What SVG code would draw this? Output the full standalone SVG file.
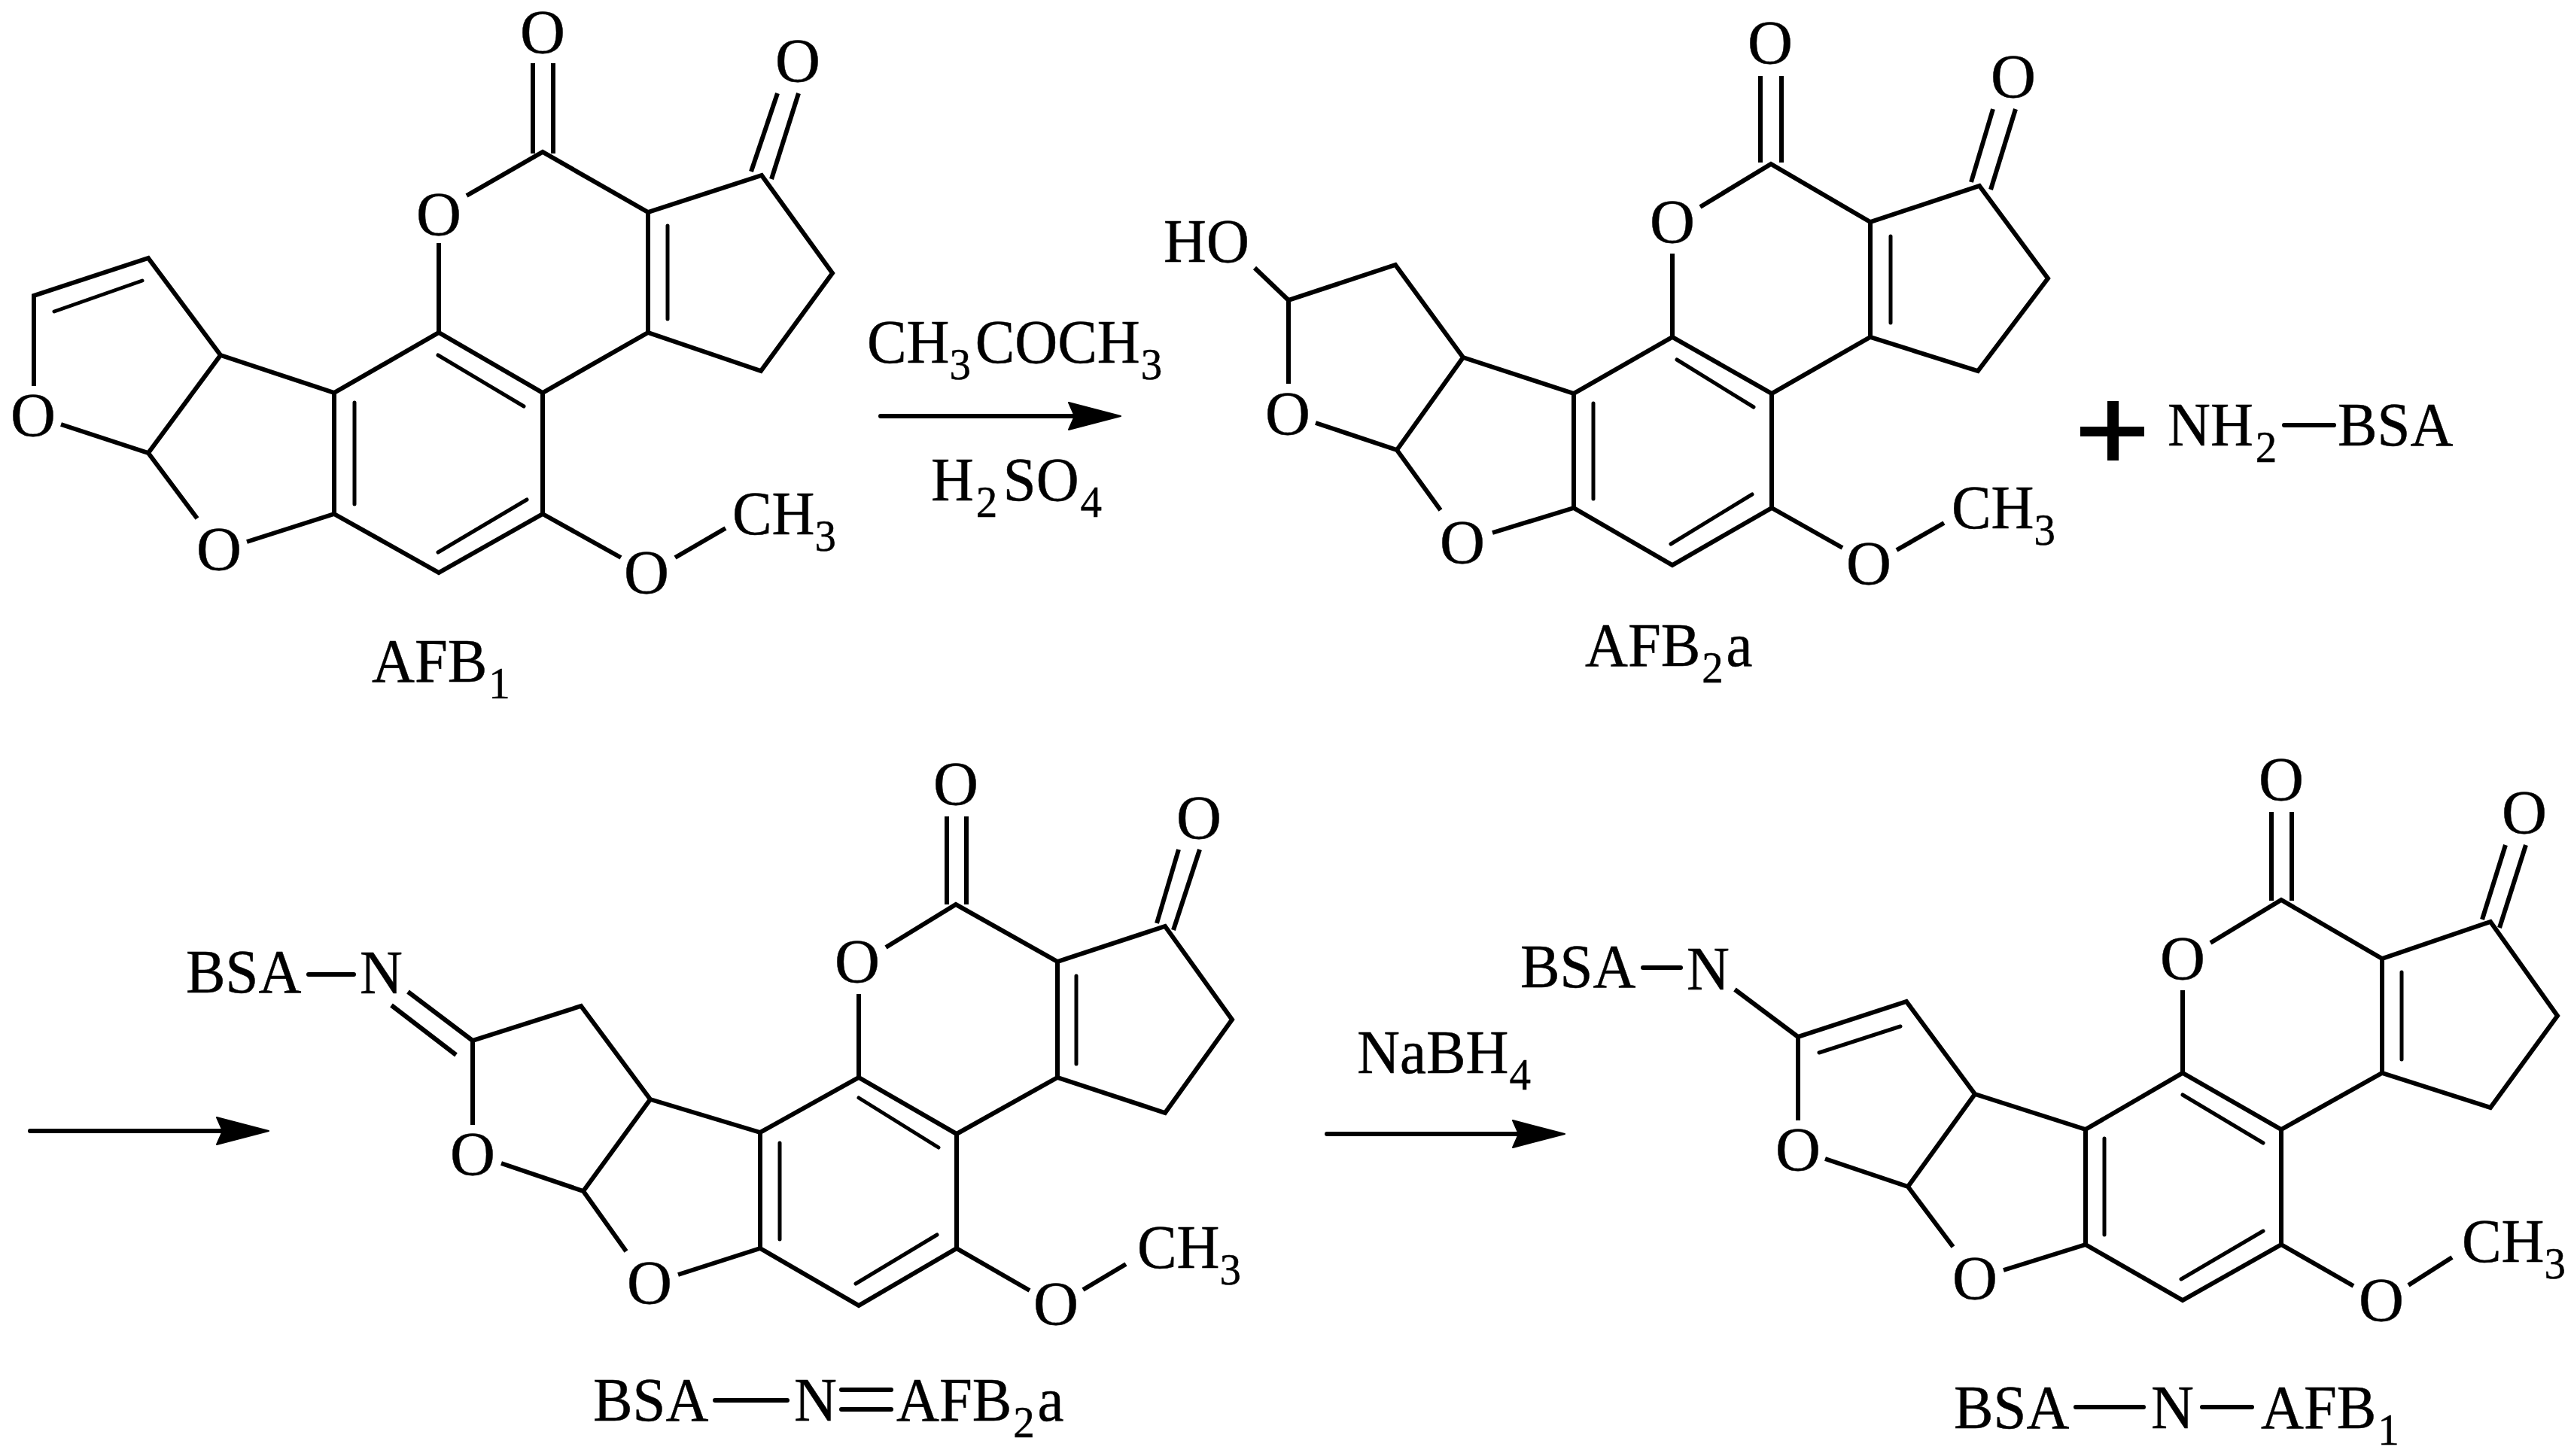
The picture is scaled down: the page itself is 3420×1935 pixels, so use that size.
<svg xmlns="http://www.w3.org/2000/svg" width="3420" height="1935" viewBox="0 0 3420 1935">
<style>
text{font-family:"Liberation Serif","Times New Roman",serif;font-size:83px;fill:#000;stroke:#000;stroke-width:.5}
.m{text-anchor:middle}
.s{font-size:60px}
.b{fill:none;stroke:#000;stroke-width:6;stroke-linecap:butt;stroke-linejoin:miter}
.i{fill:none;stroke:#000;stroke-width:5;stroke-linecap:round}
.a{fill:none;stroke:#000;stroke-width:6;stroke-linecap:round}
.d{fill:none;stroke:#000;stroke-width:6;stroke-linecap:round}
</style>
<defs>
<marker id="head" markerUnits="userSpaceOnUse" markerWidth="90" markerHeight="50" refX="50" refY="25" orient="auto" overflow="visible">
<path d="M0,7L69,25L0,43L8,25Z" fill="#000" stroke="#000" stroke-width="2" stroke-linejoin="round"/>
</marker>
</defs>
<rect width="3420" height="1935" fill="#fff"/>

<g id="AFB1">
<path class="b" d="M708,84V204M735,84V204M998,228L1033,124M1025,238L1061,124M620,260L721,202L861,282L1012,233L1106,363L1011,493L861,442L721,522L583,442L444,522V683L583,761L721,683V522M861,282V442M583,323V442M293,472L444,522M81,564L197,602L293,472L197,343L45,393V513M197,602L262,689M328,720L444,683M721,683L825,741M897,741L964,702"/>
<path class="i" d="M471,535V670M582,472L696,540M582,734L700,664M887,300V424M72,414L189,373"/>
<text class="m" x="721" y="70">O</text>
<text class="m" x="1060" y="108">O</text>
<text class="m" x="583" y="312">O</text>
<text class="m" x="44" y="579">O</text>
<text class="m" x="291" y="757">O</text>
<text class="m" x="859" y="788">O</text>
<text transform="translate(973 710) scale(.95 1)">CH<tspan class="s" dy="22">3</tspan></text>
<text transform="translate(494 906) scale(.95 1)">AFB<tspan class="s" dy="22" dx="2">1</tspan></text>
</g>

<g id="AFB2a">
<path class="b" d="M2339,101V216M2367,101V216M2619,242L2648,145M2645,252L2678,145M2259,275L2353,218L2485,295L2630,247L2721,370L2628,493L2485,448L2354,523L2222,448L2091,523V675L2222,751L2354,675V523M2485,295V448M2222,337V448M1944,475L2091,523M1748,562L1856,598L1944,475L1854,352L1712,399V510M1667,356L1712,399M1856,598L1914,678M1983,708L2091,675M2354,675L2448,728M2520,731L2583,695"/>
<path class="i" d="M2117,536V663M2228,478L2330,541M2220,723L2328,657M2512,314V429"/>
<text class="m" x="2352" y="84">O</text>
<text class="m" x="2675" y="129">O</text>
<text class="m" x="2222" y="322">O</text>
<text class="m" x="1711" y="577">O</text>
<text class="m" x="1943" y="748">O</text>
<text class="m" x="2483" y="776">O</text>
<text transform="translate(1546 348) scale(.95 1)">HO</text>
<text transform="translate(2593 702) scale(.95 1)">CH<tspan class="s" dy="22">3</tspan></text>
<text transform="translate(2106 885) scale(.95 1)">AFB<tspan class="s" dy="22" dx="2">2</tspan><tspan dy="-22" dx="4">a</tspan></text>
</g>

<g id="reagent-NH2-BSA">
<path d="M2764,567H2800V533H2815V567H2849V580H2815V612H2800V580H2764Z" fill="#000"/>
<text transform="translate(2880 592) scale(.95 1)">NH<tspan class="s" dy="22" dx="3">2</tspan></text>
<path class="d" d="M3035,565H3101"/>
<text transform="translate(3106 592) scale(.95 1)">BSA</text>
</g>

<g id="BSA-N-AFB2a">
<path class="b" d="M1258,1085V1202M1284,1085V1202M1537,1227L1566,1129M1559,1236L1594,1129M1177,1259L1270,1202L1405,1278L1548,1231L1637,1355L1548,1479L1405,1432L1271,1507L1141,1432L1010,1505V1659L1141,1735L1271,1659V1507M1405,1278V1432M1141,1321V1432M864,1461L1010,1505M666,1546L775,1583L864,1461L772,1337L628,1383V1495M775,1583L832,1663M901,1694L1010,1659M1271,1659L1368,1715M1439,1714L1496,1680M542,1318L628,1383M520,1336L606,1402"/>
<path class="i" d="M1036,1519V1647M1141,1459L1247,1525M1137,1706L1245,1641M1430,1297V1414"/>
<text class="m" x="1270" y="1069">O</text>
<text class="m" x="1593" y="1114">O</text>
<text class="m" x="1139" y="1305">O</text>
<text class="m" x="628" y="1561">O</text>
<text class="m" x="863" y="1732">O</text>
<text class="m" x="1403" y="1760">O</text>
<text transform="translate(247 1319) scale(.95 1)">BSA</text>
<path class="d" d="M410,1295H470"/>
<text transform="translate(478 1320) scale(.95 1)">N</text>
<text transform="translate(1511 1685) scale(.95 1)">CH<tspan class="s" dy="22">3</tspan></text>
<text transform="translate(788 1888) scale(.95 1)">BSA</text>
<path class="d" d="M950,1861H1046"/>
<text transform="translate(1055 1888) scale(.95 1)">N</text>
<path class="d" d="M1118,1847H1184M1118,1873H1184"/>
<text transform="translate(1191 1888) scale(.95 1)">AFB<tspan class="s" dy="22" dx="2">2</tspan><tspan dy="-22" dx="4">a</tspan></text>
</g>

<g id="BSA-N-AFB1">
<path class="b" d="M3018,1079V1197M3045,1079V1197M3298,1222L3329,1123M3321,1233L3356,1123M2937,1253L3031,1196L3165,1274L3309,1225L3398,1350L3309,1472L3165,1426L3031,1501L2900,1426L2771,1501V1654L2900,1728L3031,1654V1501M3165,1274V1426M2900,1316V1426M2624,1454L2771,1501M2425,1540L2535,1577L2624,1454L2533,1331L2389,1378V1489M2305,1315L2389,1378M2535,1577L2595,1657M2662,1688L2771,1654M3031,1654L3127,1709M3200,1708L3258,1671"/>
<path class="i" d="M2796,1513V1641M2900,1455L3007,1519M2898,1700L3007,1636M3191,1292V1408M2417,1399L2525,1364"/>
<text class="m" x="3031" y="1063">O</text>
<text class="m" x="3354" y="1107">O</text>
<text class="m" x="2900" y="1301">O</text>
<text class="m" x="2389" y="1555">O</text>
<text class="m" x="2624" y="1726">O</text>
<text class="m" x="3164" y="1755">O</text>
<text transform="translate(2020 1312) scale(.95 1)">BSA</text>
<path class="d" d="M2183,1286H2233"/>
<text transform="translate(2241 1315) scale(.95 1)">N</text>
<text transform="translate(3271 1677) scale(.95 1)">CH<tspan class="s" dy="22">3</tspan></text>
<text transform="translate(2596 1898) scale(.95 1)">BSA</text>
<path class="d" d="M2758,1870H2848"/>
<text transform="translate(2858 1898) scale(.95 1)">N</text>
<path class="d" d="M2926,1870H2992"/>
<text transform="translate(3004 1898) scale(.95 1)">AFB<tspan class="s" dy="22" dx="2">1</tspan></text>
</g>

<g id="reagents">
<text transform="translate(1152 482) scale(.95 1)">CH<tspan class="s" dy="22">3</tspan><tspan dy="-22" dx="6">COCH</tspan><tspan class="s" dy="22" dx="1">3</tspan></text>
<text transform="translate(1237 665) scale(.95 1)">H<tspan class="s" dy="22" dx="3">2</tspan><tspan dy="-22" dx="8">SO</tspan><tspan class="s" dy="22" dx="2">4</tspan></text>
<text transform="translate(1803 1426) scale(.95 1)">NaBH<tspan class="s" dy="22" dx="1">4</tspan></text>
</g>

<g id="connectors">
<path class="a" d="M1170,553H1470" marker-end="url(#head)"/>
<path class="a" d="M40,1503H338" marker-end="url(#head)"/>
<path class="a" d="M1763,1507H2060" marker-end="url(#head)"/>
</g>
</svg>
